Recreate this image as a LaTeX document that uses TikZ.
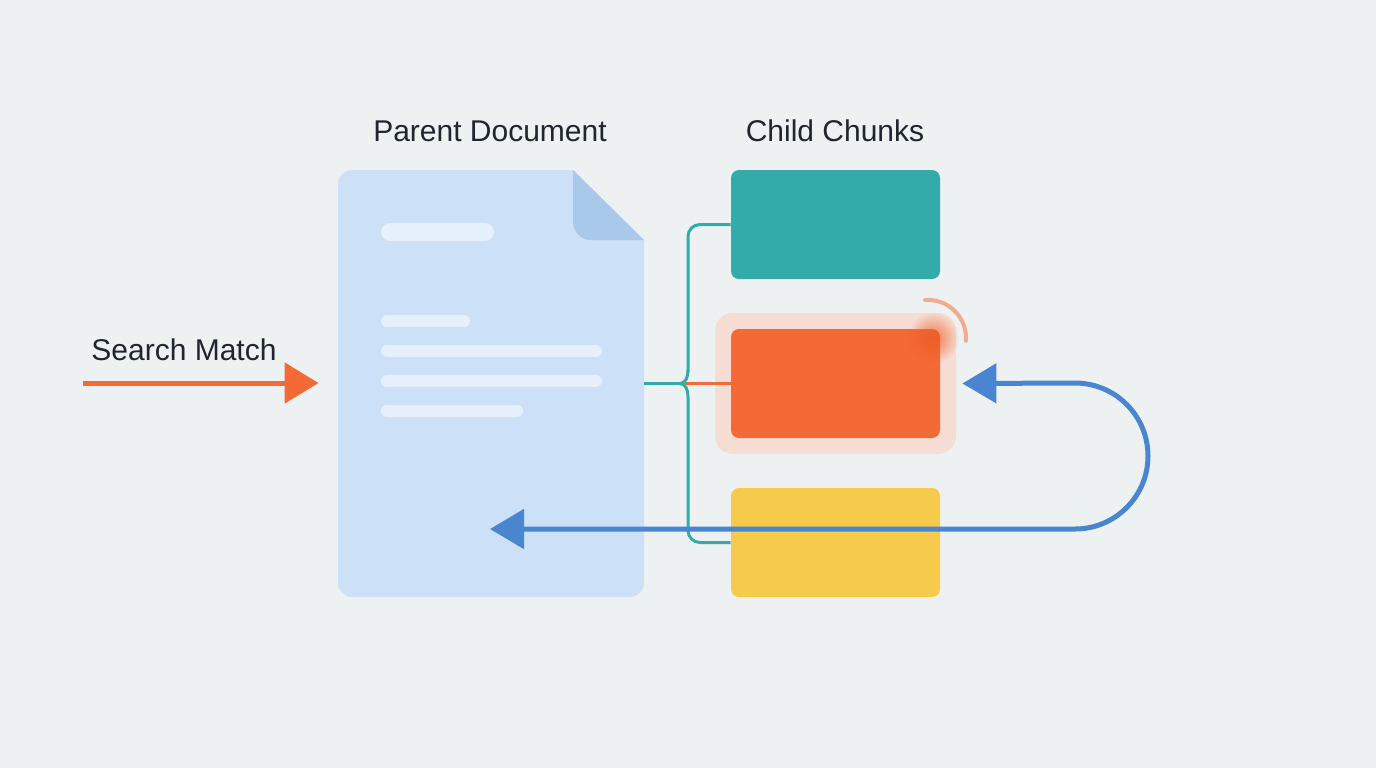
\documentclass[tikz,border=0pt]{standalone}
\usepackage{fontspec}
\setmainfont{Liberation Sans}
\usetikzlibrary{positioning,arrows.meta,fadings}
\definecolor{bgcol}{HTML}{EDF1F2}
\definecolor{doccol}{HTML}{CCE1F7}
\definecolor{foldcol}{HTML}{A8C9EA}
\definecolor{tealcol}{HTML}{33ACA9}
\definecolor{orangecol}{HTML}{F46A36}
\definecolor{halocol}{HTML}{F6DDD3}
\definecolor{glowcol}{HTML}{EE5A22}
\definecolor{yellowcol}{HTML}{F6CA4B}
\definecolor{bluecol}{HTML}{4A85CF}
\definecolor{arccol}{HTML}{F2AA90}
\definecolor{inkcol}{HTML}{1F2630}
\tikzfading[name=glowfade, inner color=transparent!10, outer color=transparent!100]

\begin{document}
\begin{tikzpicture}[x=0.5pt, y=-0.5pt,
        chunk/.style={rounded corners=4pt, minimum width=104.5pt, minimum height=54.5pt, inner sep=0pt},
        bar/.style={draw=white, draw opacity=0.5, line width=6pt, line cap=round},
        title/.style={font=\fontsize{15}{18}\selectfont, text=inkcol},
        link/.style={draw=tealcol, line width=1.5pt},
        flow/.style={line width=2.5pt, {Triangle[length=17pt,width=19.5pt]}-{Triangle[length=17pt,width=19.5pt]}},
    ]
    % canvas
    \fill[bgcol] (0,0) rectangle (1376,768);
    \useasboundingbox (0,0) rectangle (1376,768);

    % titles
    \node[title] (doctitle) at (490,131) {Parent Document};
    \node[title] (chunktitle) at (835,131) {Child Chunks};

    % parent document with folded corner
    \node[minimum width=153pt, minimum height=213.5pt, inner sep=0pt] (doc) at (491,383.5) {};
    \fill[doccol] (644,240) -- (573,170) [rounded corners=7pt]-- (338,170) -- (338,597) -- (644,597) [sharp corners]-- cycle;
    \fill[foldcol] (644,240) -- (573,170) [rounded corners=9pt]-- (573,240) [sharp corners]-- cycle;
    \draw[bar, line width=9pt] (390,232) -- (485,232);
    \draw[bar] (387,321) -- (464,321);
    \draw[bar] (387,351) -- (596,351);
    \draw[bar] (387,381) -- (596,381);
    \draw[bar] (387,411) -- (517,411);

    % child chunks
    \node[chunk, fill=tealcol] (top) at (835.5,224.5) {};
    \node[chunk, fill=halocol, minimum width=120.5pt, minimum height=70.5pt, rounded corners=9pt] (halo) at (835.5,383.5) {};
    \node[chunk, fill=orangecol] (mid) at (halo) {};
    \node[chunk, fill=yellowcol] (low) at (835.5,542.5) {};
    \fill[glowcol, path fading=glowfade, fill opacity=0.85] (933,338) circle (13pt);
    \draw[arccol, line width=2pt, line cap=round] (925,300) arc[start angle=94.5, end angle=-4.5, radius=19pt];

    % bracket from document to chunks
    \coordinate (nib) at (680,383.5);
    \draw[link] (doc.east) -- (nib);
    \draw[link, rounded corners=6pt] (top.west) -- (688,224.5) -- (688,370) to[out=90, in=0, looseness=0] (688,372);
    \draw[link] (688,370) to[out=-90, in=0] (nib);
    \draw[link, rounded corners=6pt] (low.west) -- (688,542.5) -- (688,397);
    \draw[link] (688,397) to[out=90, in=0] (nib);
    \draw[orangecol, line width=1.2pt] (685,383.5) -- (mid.west);

    % search match in
    \node[title] (matchlbl) at (184,350) {Search Match};
    \coordinate (src) at (83,383);
    \draw[orangecol, line width=2.5pt, -{Triangle[length=17pt,width=20pt]}] (src) -- ([xshift=-9.5pt]doc.west |- src);

    % loop back to the parent
    \coordinate (docin) at (490,529);
    \draw[bluecol, flow] (docin) -- (1075,529) arc[start angle=-90, end angle=90, radius=36.5pt] -- ([xshift=3pt]halo.east);
\end{tikzpicture}
\end{document}
